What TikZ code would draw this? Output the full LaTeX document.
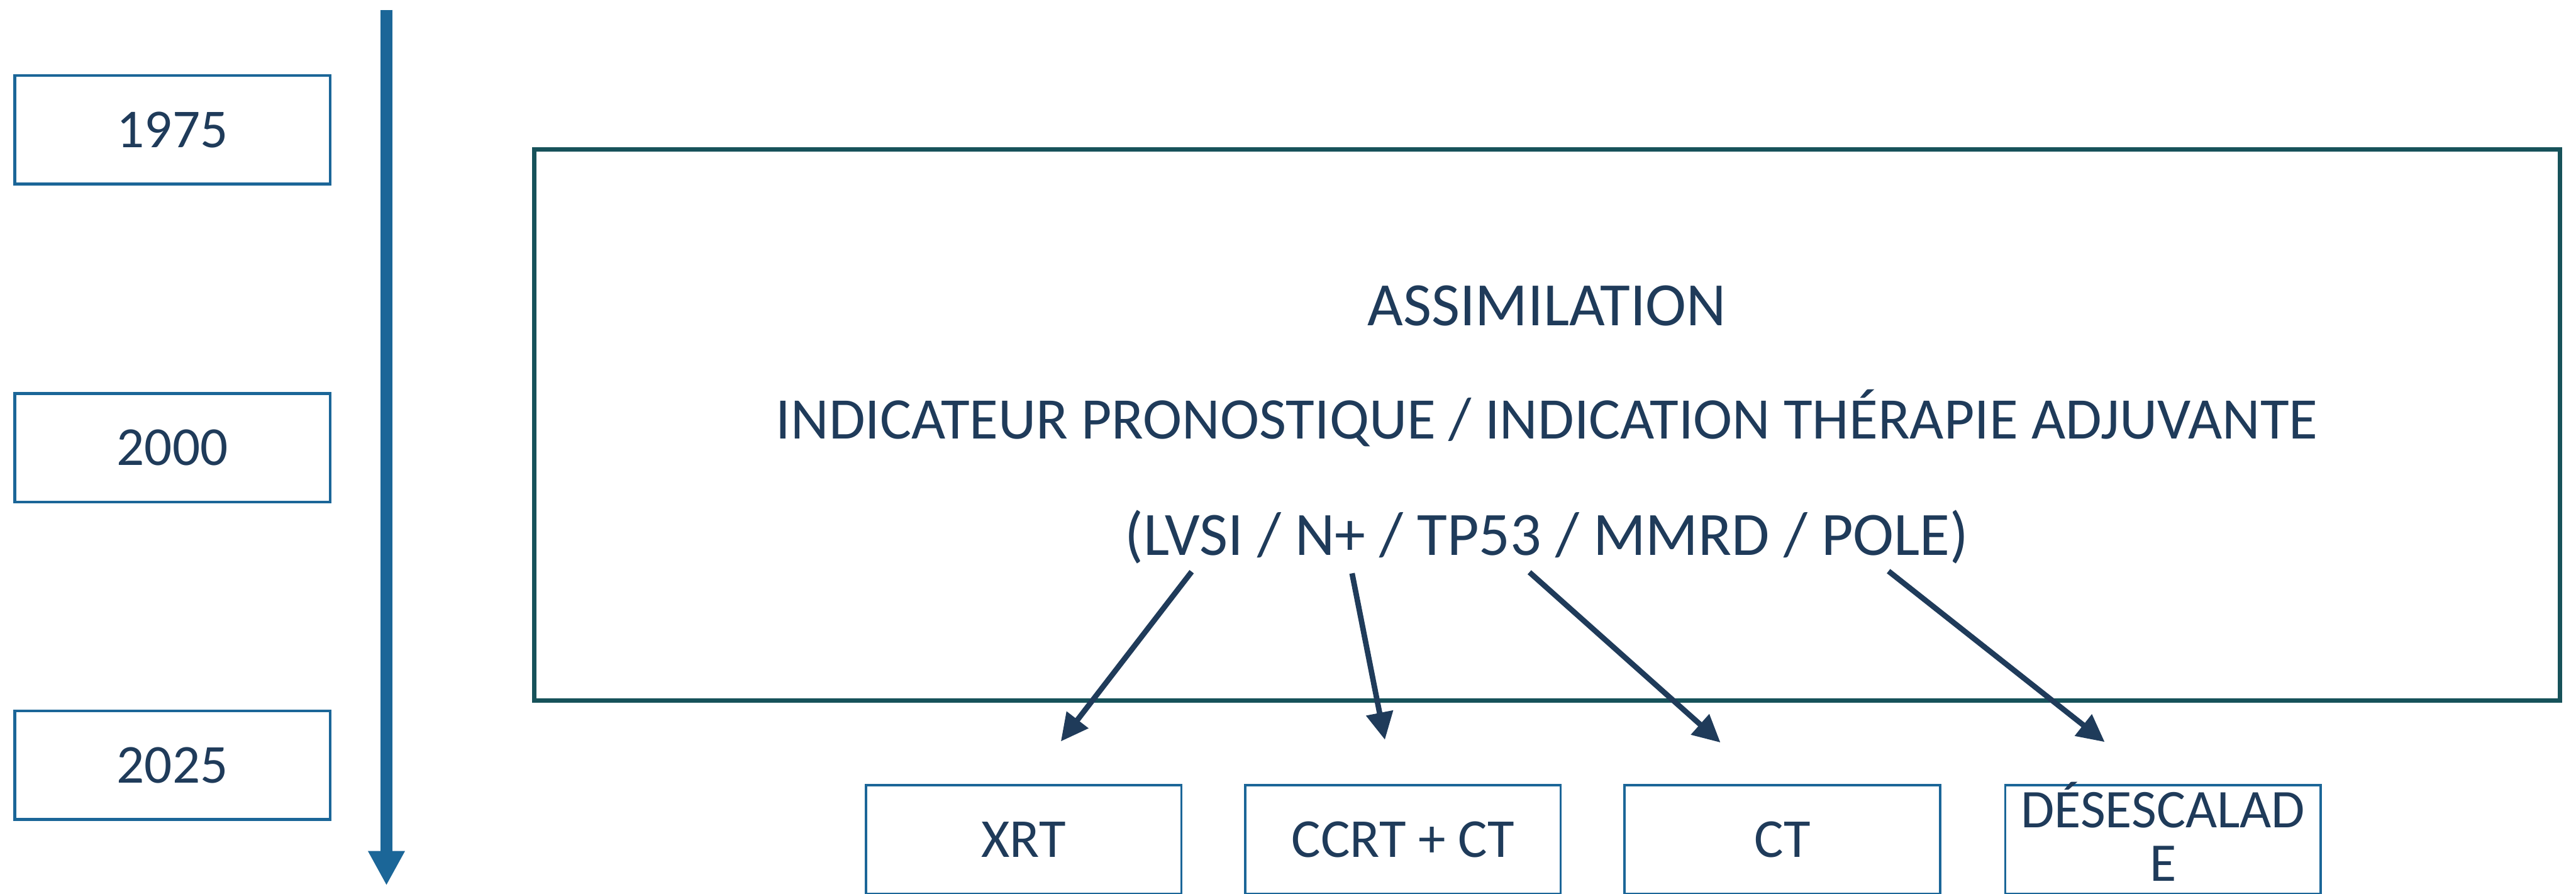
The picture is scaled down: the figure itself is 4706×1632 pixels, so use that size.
\documentclass[tikz,border=0pt]{standalone}
\usepackage{fontspec}
\setmainfont{Carlito}
\usetikzlibrary{arrows.meta}
\definecolor{tlblue}{HTML}{1B6698}
\definecolor{mainteal}{HTML}{17525A}
\definecolor{txtnavy}{HTML}{1F3B5A}
\begin{document}
\begin{tikzpicture}[x=0.01cm,y=-0.01cm,
  yearbox/.style={draw=tlblue, line width=0.05cm, minimum width=5.76cm, minimum height=1.98cm,
    inner sep=0pt, text=txtnavy, font=\fontsize{28.5}{28.5}\selectfont},
  treatbox/.style={draw=tlblue, line width=0.04cm, minimum width=5.76cm, minimum height=1.98cm,
    inner sep=0pt, text=txtnavy, align=center, font=\fontsize{28.5}{27.6}\selectfont},
  boxtext/.style={inner sep=0pt, text=txtnavy, align=center, font=\fontsize{28.3}{27.8}\selectfont},
  mainbox/.style={draw=mainteal, line width=0.08cm, minimum width=36.99cm, minimum height=10.06cm, inner sep=0pt},
  maintext/.style={text=txtnavy, inner sep=0pt, anchor=base, font=\fontsize{32}{38}\selectfont},
  timeline/.style={draw=tlblue, line width=0.21cm, -{Triangle[length=0.63cm,width=0.63cm]}},
  link/.style={draw=txtnavy, line width=0.1cm, -{Triangle[length=0.5cm,width=0.48cm]}}
]
\clip (0,0) rectangle (4706,1632);
% timeline
\node[yearbox] (y1975) at (315,237) {1975};
\node[yearbox] (y2000) at (315,817.5) {2000};
\node[yearbox] (y2025) at (315,1397.5) {2025};
\coordinate (tltop) at (706,18);
\coordinate (tlbot) at (706,1617);
\draw[timeline] (tltop) -- (tlbot);
% main box
\node[mainbox] (main) at (2826.5,776) {};
\node[maintext] (t1) at (2826,594) {ASSIMILATION};
\node[maintext, font=\fontsize{30.6}{36}\selectfont] (t2) at (2826,801) {INDICATEUR PRONOSTIQUE / INDICATION THÉRAPIE ADJUVANTE};
\node[maintext] (t3) at (2826,1014) {(LVSI / N+ / TP53 / MMRD / POLE)};
% treatment boxes
\node[treatbox] (xrt) at (1870,1533) {XRT};
\node[treatbox] (ccrt) at (2563,1533) {CCRT + CT};
\node[treatbox] (ct) at (3256,1533) {CT};
\node[treatbox] (desc) at (3951.5,1533) {};
\node[boxtext] (desctext) at (3951.5,1519) {DÉSESCALAD\\E};
% arrows
\coordinate (a1s) at (2177,1044); \coordinate (a1e) at (1938,1354);
\coordinate (a2s) at (2470,1047); \coordinate (a2e) at (2530,1351);
\coordinate (a3s) at (2794,1045); \coordinate (a3e) at (3143,1356);
\coordinate (a4s) at (3450,1043); \coordinate (a4e) at (3845,1355);
\draw[link] (a1s) -- (a1e);
\draw[link] (a2s) -- (a2e);
\draw[link] (a3s) -- (a3e);
\draw[link] (a4s) -- (a4e);
\end{tikzpicture}
\end{document}
